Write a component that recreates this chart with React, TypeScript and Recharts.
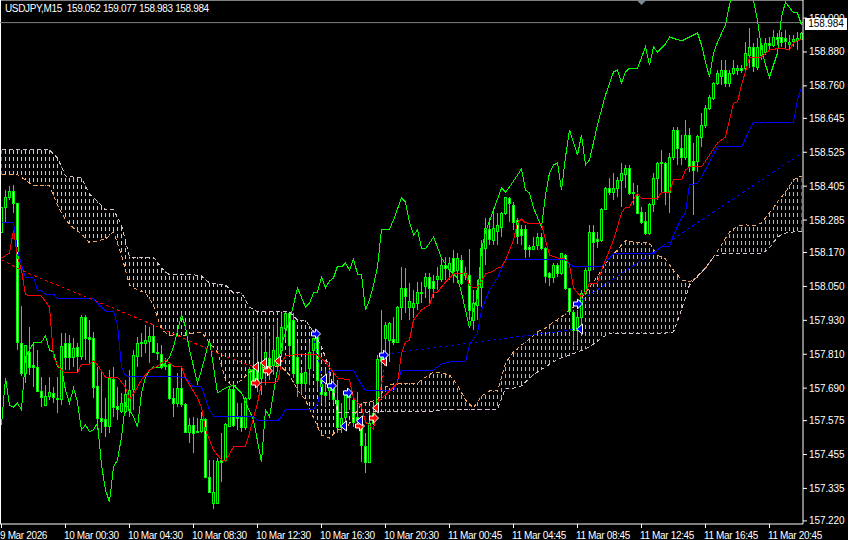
import { ComposedChart, Area, Bar, Line, Scatter, XAxis, YAxis, ReferenceLine } from 'recharts';

const FONT = '"Liberation Sans", sans-serif';
const TRACK = '-0.35px';

const open = [
  158.243,158.331,158.367,158.388,158.345,157.850,157.744,157.818,157.772,157.765,
  157.680,157.630,157.662,157.673,157.655,157.652,157.850,157.850,157.800,157.836,
  157.804,157.942,157.871,157.867,157.698,157.584,157.581,157.556,157.722,157.627,
  157.609,157.609,157.613,157.687,157.804,157.853,157.850,157.857,157.875,157.818,
  157.811,157.768,157.775,157.655,157.637,157.690,157.634,157.535,157.560,157.538,
  157.538,157.581,157.375,157.283,157.283,157.436,157.436,157.556,157.687,157.588,
  157.588,157.552,157.655,157.758,157.772,157.726,157.761,157.797,157.772,157.772,
  157.825,157.903,157.956,157.931,157.800,157.744,157.708,157.761,157.825,157.871,
  157.719,157.676,157.683,157.694,157.648,157.552,157.588,157.676,157.648,157.588,
  157.577,157.485,157.428,157.567,157.637,157.800,157.867,157.860,157.864,157.853,
  157.977,158.045,157.977,157.977,157.991,158.027,158.052,158.083,158.069,158.076,
  158.076,158.126,158.112,158.151,158.108,158.144,158.098,158.091,157.931,157.984,
  158.048,158.186,158.253,158.214,158.246,158.260,158.310,158.363,158.338,158.285,
  158.253,158.253,158.190,158.183,158.197,158.225,158.186,158.098,158.083,158.126,
  158.098,158.161,158.045,157.960,157.896,157.942,158.027,158.108,158.243,158.218,
  158.214,158.324,158.398,158.384,158.398,158.427,158.448,158.469,158.384,158.370,
  158.314,158.282,158.239,158.342,158.434,158.491,158.487,158.384,158.508,158.604,
  158.540,158.508,158.586,158.494,158.494,158.579,158.622,158.682,158.717,158.770,
  158.795,158.816,158.770,158.806,158.816,158.823,158.823,158.869,158.898,158.827,
  158.869,158.880,158.912,158.905,158.933,158.933,158.929,158.908,158.919,158.922,
  158.926,
];
const close = [
  158.331,158.367,158.388,158.345,157.853,157.744,157.843,157.765,157.765,157.680,
  157.659,157.662,157.676,157.659,157.652,157.839,157.800,157.800,157.832,157.804,
  157.942,157.867,157.864,157.694,157.584,157.574,157.556,157.726,157.623,157.616,
  157.637,157.669,157.683,157.807,157.850,157.850,157.860,157.875,157.818,157.814,
  157.768,157.772,157.655,157.637,157.690,157.634,157.535,157.560,157.531,157.535,
  157.581,157.375,157.322,157.322,157.432,157.428,157.563,157.687,157.560,157.584,
  157.552,157.655,157.758,157.708,157.712,157.783,157.818,157.754,157.825,157.871,
  157.906,157.956,157.843,157.744,157.708,157.708,157.747,157.818,157.867,157.719,
  157.669,157.666,157.708,157.652,157.552,157.584,157.666,157.659,157.570,157.577,
  157.489,157.428,157.567,157.602,157.793,157.790,157.914,157.921,157.853,157.977,
  158.045,158.016,157.998,157.991,158.030,158.030,158.083,158.045,158.045,158.087,
  158.126,158.115,158.133,158.105,158.151,158.062,158.091,157.967,157.991,158.037,
  158.186,158.257,158.218,158.257,158.268,158.310,158.367,158.345,158.278,158.229,
  158.232,158.183,158.183,158.193,158.225,158.186,158.087,158.083,158.126,158.098,
  158.168,158.045,157.963,157.896,157.942,158.027,158.108,158.243,158.207,158.211,
  158.324,158.398,158.384,158.398,158.427,158.452,158.469,158.381,158.381,158.310,
  158.278,158.239,158.342,158.434,158.487,158.487,158.384,158.508,158.604,158.540,
  158.508,158.586,158.476,158.462,158.583,158.622,158.682,158.721,158.770,158.806,
  158.816,158.770,158.806,158.823,158.823,158.816,158.876,158.898,158.830,158.898,
  158.905,158.912,158.905,158.933,158.926,158.915,158.919,158.915,158.926,158.929,
  158.947,
];
const high = [
  158.331,158.391,158.406,158.409,158.345,157.981,157.843,157.906,157.853,157.825,
  157.729,157.701,157.729,157.694,157.729,157.885,157.885,157.878,157.867,157.850,
  157.949,157.949,157.931,157.889,157.765,157.754,157.655,157.754,157.765,157.694,
  157.673,157.719,157.754,157.825,157.871,157.885,157.914,157.906,157.914,157.850,
  157.843,157.797,157.779,157.690,157.744,157.765,157.637,157.584,157.588,157.584,
  157.606,157.584,157.436,157.436,157.443,157.531,157.567,157.694,157.694,157.637,
  157.637,157.659,157.765,157.871,157.885,157.860,157.878,157.860,157.914,157.931,
  157.956,157.960,157.960,157.956,157.850,157.754,157.800,157.853,157.896,157.878,
  157.729,157.754,157.783,157.744,157.719,157.637,157.683,157.683,157.659,157.676,
  157.588,157.531,157.613,157.637,157.807,157.967,157.924,157.924,157.942,157.981,
  158.119,158.115,158.062,158.037,158.066,158.066,158.098,158.098,158.091,158.119,
  158.154,158.154,158.154,158.179,158.168,158.161,158.119,158.183,158.037,158.073,
  158.214,158.292,158.292,158.321,158.310,158.314,158.367,158.367,158.349,158.292,
  158.268,158.268,158.197,158.225,158.239,158.239,158.190,158.101,158.133,158.133,
  158.168,158.165,158.045,157.967,157.967,158.037,158.115,158.268,158.268,158.243,
  158.328,158.402,158.434,158.452,158.437,158.487,158.480,158.480,158.416,158.409,
  158.331,158.314,158.345,158.452,158.491,158.533,158.491,158.522,158.614,158.614,
  158.586,158.639,158.611,158.558,158.586,158.664,158.692,158.728,158.774,158.816,
  158.852,158.852,158.816,158.852,158.834,158.834,158.915,158.965,158.912,158.930,
  158.912,158.930,158.933,158.958,158.947,158.951,158.958,158.940,158.940,158.951,
  158.951,
];
const low = [
  158.243,158.278,158.356,158.310,157.825,157.733,157.708,157.737,157.694,157.676,
  157.623,157.630,157.648,157.637,157.602,157.630,157.754,157.754,157.765,157.744,
  157.790,157.790,157.779,157.655,157.542,157.531,157.517,157.531,157.588,157.577,
  157.602,157.602,157.588,157.613,157.765,157.800,157.814,157.779,157.814,157.790,
  157.765,157.754,157.648,157.588,157.623,157.623,157.531,157.496,157.460,157.531,
  157.531,157.372,157.319,157.262,157.283,157.358,157.428,157.552,157.552,157.542,
  157.535,157.542,157.648,157.701,157.676,157.666,157.701,157.719,157.737,157.747,
  157.800,157.860,157.807,157.726,157.659,157.666,157.676,157.701,157.754,157.683,
  157.637,157.623,157.648,157.637,157.531,157.531,157.542,157.613,157.552,157.552,
  157.428,157.390,157.428,157.560,157.613,157.648,157.797,157.783,157.843,157.853,
  157.931,157.956,157.931,157.938,157.967,157.991,158.009,157.984,158.009,158.037,
  158.066,158.073,158.073,158.062,158.062,158.055,158.073,157.931,157.896,157.931,
  157.977,158.126,158.197,158.197,158.197,158.225,158.303,158.278,158.250,158.200,
  158.197,158.151,158.154,158.179,158.179,158.179,158.062,158.052,158.062,158.083,
  158.091,158.037,157.960,157.843,157.843,157.896,158.020,158.066,158.108,158.186,
  158.207,158.321,158.374,158.356,158.367,158.331,158.398,158.374,158.338,158.310,
  158.271,158.232,158.232,158.314,158.356,158.384,158.338,158.310,158.498,158.480,
  158.480,158.498,158.455,158.303,158.455,158.544,158.611,158.675,158.710,158.763,
  158.763,158.756,158.756,158.798,158.798,158.806,158.816,158.823,158.809,158.816,
  158.852,158.869,158.887,158.898,158.905,158.898,158.887,158.887,158.898,158.887,
  158.922,
];

// [bar, price]
const tenkan = [
  [0,158.151],[2,158.168],[3,158.250],[4,158.154],[5,158.108],[6,158.020],[10,158.016],[12,157.977],[13,157.800],[14,157.772],
  [15,157.754],[16,157.744],[19,157.744],[20,157.775],[22,157.775],[23,157.786],[24,157.772],[26,157.729],[29,157.729],[31,157.694],
  [32,157.648],[34,157.694],[35,157.719],[37,157.754],[39,157.768],[41,157.790],[43,157.768],[45,157.768],[46,157.726],[49,157.655],
  [50,157.623],[51,157.542],[53,157.471],[55,157.436],[56,157.432],[58,157.482],[61,157.485],[62,157.531],[64,157.637],[65,157.708],
  [69,157.712],[70,157.779],[71,157.804],[75,157.811],[79,157.807],[81,157.783],[84,157.726],[87,157.719],[88,157.655],[90,157.623],
  [91,157.570],[93,157.545],[94,157.641],[96,157.666],[99,157.708],[100,157.814],[101,157.853],[102,157.860],[103,157.931],[105,157.967],
  [107,157.984],[108,158.027],[109,158.030],[111,158.066],[113,158.094],[116,158.098],[117,158.055],[118,158.045],[119,158.048],[120,158.069],
  [121,158.094],[123,158.105],[124,158.115],[125,158.119],[126,158.144],[128,158.214],[129,158.275],[130,158.289],[131,158.275],[135,158.271],
  [136,158.214],[137,158.161],[139,158.151],[141,158.147],[142,158.126],[143,158.045],[144,158.027],[145,158.013],[146,158.030],[147,158.062],
  [149,158.062],[150,158.108],[152,158.179],[153,158.214],[155,158.310],[156,158.331],[157,158.331],[159,158.381],[160,158.360],[164,158.360],
  [165,158.384],[167,158.384],[168,158.427],[170,158.427],[171,158.462],[172,158.473],[175,158.473],[179,158.558],[181,158.579],[182,158.639],
  [183,158.699],[184,158.703],[185,158.763],[187,158.859],[190,158.862],[192,158.887],[195,158.894],[197,158.887],[198,158.912],[200,158.926],
];
const kijun = [
  [0,158.275],[3,158.275],[4,158.179],[5,158.126],[6,158.083],[8,158.083],[9,158.037],[10,158.034],[11,158.023],[13,158.023],
  [14,158.006],[23,158.006],[26,157.963],[28,157.963],[29,157.914],[30,157.765],[31,157.733],[46,157.729],[48,157.694],[50,157.694],
  [52,157.613],[53,157.591],[63,157.591],[64,157.574],[69,157.574],[70,157.588],[71,157.616],[78,157.616],[79,157.634],[80,157.701],
  [81,157.726],[82,157.754],[88,157.754],[89,157.726],[91,157.680],[98,157.680],[99,157.712],[100,157.754],[108,157.754],[110,157.775],
  [112,157.783],[116,157.783],[117,157.843],[119,157.885],[120,157.967],[122,158.037],[124,158.080],[126,158.144],[141,158.144],[143,158.119],
  [150,158.119],[152,158.151],[153,158.165],[163,158.165],[165,158.190],[167,158.190],[168,158.232],[170,158.292],[171,158.310],[172,158.409],
  [174,158.416],[175,158.437],[179,158.544],[185,158.544],[188,158.632],[198,158.632],[199,158.710],[200,158.756],
];
const chikou = [
  [0,157.560],[1,157.726],[2,157.630],[3,157.623],[4,157.637],[5,157.613],[6,157.800],[7,157.825],[8,157.850],[10,157.853],
  [11,157.875],[12,157.825],[13,157.818],[14,157.765],[15,157.761],[16,157.683],[17,157.637],[18,157.690],[19,157.641],[20,157.542],
  [21,157.560],[22,157.535],[23,157.542],[24,157.567],[25,157.418],[26,157.329],[27,157.287],[28,157.411],[29,157.436],[30,157.517],
  [31,157.637],[32,157.613],[33,157.588],[34,157.552],[35,157.673],[36,157.729],[37,157.754],[38,157.765],[40,157.761],[42,157.800],
  [43,157.836],[45,157.949],[46,157.906],[47,157.825],[49,157.708],[50,157.754],[52,157.860],[54,157.673],[56,157.690],[58,157.701],
  [60,157.673],[63,157.577],[65,157.428],[66,157.613],[67,157.588],[70,157.843],[72,157.931],[73,157.984],[74,158.045],[76,157.977],
  [77,157.991],[78,158.027],[79,158.030],[80,158.083],[81,158.045],[82,158.069],[83,158.080],[84,158.122],[85,158.119],[86,158.133],
  [87,158.108],[88,158.147],[89,158.094],[90,158.091],[91,157.967],[92,158.002],[93,158.055],[94,158.119],[95,158.253],[97,158.253],
  [98,158.285],[100,158.363],[101,158.349],[102,158.278],[103,158.232],[104,158.250],[105,158.186],[106,158.183],[108,158.225],[110,158.151],
  [112,158.108],[114,158.080],[115,158.027],[116,157.967],[117,157.903],[118,157.967],[119,158.013],[120,158.179],[121,158.243],[123,158.321],
  [125,158.398],[126,158.384],[127,158.402],[130,158.466],[131,158.391],[132,158.381],[133,158.328],[135,158.260],[136,158.374],[137,158.452],
  [138,158.480],[139,158.487],[140,158.391],[141,158.508],[142,158.604],[144,158.515],[145,158.586],[146,158.480],[147,158.498],[149,158.622],
  [151,158.728],[153,158.809],[154,158.816],[155,158.770],[156,158.809],[157,158.823],[159,158.823],[161,158.898],[162,158.834],[163,158.898],
  [164,158.880],[166,158.908],[167,158.933],[170,158.919],[173,158.940],[174,158.947],[175,158.905],[176,158.845],[177,158.791],[178,158.876],
  [179,158.915],[181,158.976],[182,159.046],[183,159.092],[186,159.117],[188,159.064],[189,158.993],[190,158.894],[191,158.834],[192,158.791],
  [193,158.834],[194,158.876],[195,159.004],[196,159.057],[198,159.018],[199,159.018],[200,158.976],
];

// one value every second bar, bars 0, 2, 4 ... 200
const spanA = [
  158.445,158.445,158.445,158.427,158.406,158.406,158.406,158.338,158.285,158.257,
  158.236,158.204,158.211,158.218,158.243,158.161,158.055,158.037,158.027,157.984,
  157.896,157.878,157.875,157.878,157.885,157.889,157.850,157.818,157.719,157.694,
  157.719,157.747,157.761,157.765,157.765,157.765,157.737,157.683,157.648,157.584,
  157.524,157.513,157.542,157.542,157.588,157.637,157.641,157.648,157.694,157.705,
  157.708,157.708,157.708,157.729,157.747,157.744,157.737,157.701,157.648,157.620,
  157.662,157.680,157.680,157.779,157.818,157.843,157.864,157.889,157.903,157.924,
  157.942,157.967,157.991,158.027,158.066,158.108,158.151,158.179,158.214,158.207,
  158.204,158.204,158.161,158.147,158.108,158.073,158.066,158.083,158.115,158.154,
  158.197,158.243,158.264,158.268,158.264,158.275,158.310,158.349,158.384,158.427,
  158.441,
];
const spanB = [
  158.533,158.533,158.533,158.533,158.533,158.533,158.533,158.505,158.441,158.437,
  158.434,158.377,158.352,158.321,158.321,158.268,158.154,158.154,158.154,158.154,
  158.115,158.091,158.091,158.091,158.091,158.087,158.062,158.059,158.055,158.027,
  158.027,157.977,157.960,157.960,157.960,157.960,157.960,157.931,157.931,157.889,
  157.836,157.761,157.602,157.602,157.602,157.602,157.606,157.606,157.606,157.606,
  157.606,157.609,157.609,157.609,157.609,157.613,157.613,157.613,157.613,157.613,
  157.613,157.613,157.616,157.690,157.690,157.698,157.726,157.747,157.765,157.783,
  157.797,157.807,157.818,157.829,157.846,157.867,157.885,157.885,157.885,157.885,
  157.885,157.885,157.885,157.885,157.889,157.967,158.055,158.087,158.115,158.154,
  158.165,158.165,158.165,158.165,158.165,158.165,158.186,158.225,158.239,158.243,
  158.243,
];

const trendRedA = [[0,158.144],[6,158.101],[38,157.914],[55,157.807],[64,157.761]];
const trendRedB = [[94,157.620],[96,157.786]];
const trendBlueA = [[78,157.878],[80,157.722]];
const trendBlueB = [[96,157.811],[144,157.899]];
const trendBlueC = [[144,157.991],[200,158.522]];

const arrowsRed = [
  { bar: 63.5, price: 157.708, dir: 'right' },
  { bar: 63.5, price: 157.765, dir: 'left' },
  { bar: 65.5, price: 157.779, dir: 'left' },
  { bar: 66.5, price: 157.751, dir: 'right' },
  { bar: 69, price: 157.786, dir: 'left' },
  { bar: 89.5, price: 157.556, dir: 'right' },
  { bar: 93.5, price: 157.620, dir: 'left' },
  { bar: 93, price: 157.584, dir: 'right' },
  { bar: 95.5, price: 157.786, dir: 'left' },
];
const arrowsBlue = [
  { bar: 78.5, price: 157.882, dir: 'right' },
  { bar: 80.5, price: 157.722, dir: 'left' },
  { bar: 82.5, price: 157.698, dir: 'right' },
  { bar: 86.5, price: 157.673, dir: 'right' },
  { bar: 85.5, price: 157.556, dir: 'left' },
  { bar: 89.5, price: 157.574, dir: 'left' },
  { bar: 95.5, price: 157.807, dir: 'right' },
  { bar: 144, price: 157.988, dir: 'right' },
  { bar: 144.5, price: 157.899, dir: 'left' },
];
const shiftMark = [{ bar: 160, price: 159.064 }];

const priceTicks = [159.0, 158.88, 158.76, 158.645, 158.525, 158.405, 158.285, 158.17, 158.05, 157.93, 157.81, 157.69, 157.575, 157.455, 157.335, 157.22];
const timeTicks = [0, 16, 32, 48, 64, 80, 96, 112, 128, 144, 160, 176, 192];
const timeLabels = ['9 Mar 2026', '10 Mar 00:30', '10 Mar 04:30', '10 Mar 08:30', '10 Mar 12:30', '10 Mar 16:30', '10 Mar 20:30', '11 Mar 00:45', '11 Mar 04:45', '11 Mar 08:45', '11 Mar 12:45', '11 Mar 16:45', '11 Mar 20:45'];

const lastPrice = 158.984;
const BEAR_END = 88; // cloud flips colour here

const rows: any[] = open.map((o, i) => ({
  bar: i, open: o, close: close[i], high: high[i], low: low[i], wick: [low[i], high[i]],
}));
const put = (key: string, pairs: number[][]) => pairs.forEach(([b, v]) => { rows[b][key] = v; });
put('tenkan', tenkan);
put('kijun', kijun);
put('chikou', chikou);
put('trendRedA', trendRedA);
put('trendRedB', trendRedB);
put('trendBlueA', trendBlueA);
put('trendBlueB', trendBlueB);
put('trendBlueC', trendBlueC);
spanA.forEach((a, k) => {
  const b = k * 2;
  const band = [Math.min(a, spanB[k]), Math.max(a, spanB[k])];
  rows[b].spanA = a;
  rows[b].spanB = spanB[k];
  if (b <= BEAR_END) rows[b].bear = band;
  if (b >= BEAR_END) rows[b].bull = band;
});

function Candle(props: any) {
  const { x, y, width, height, payload } = props;
  const k = height / (payload.high - payload.low);
  const cx = Math.floor(x + width / 2) + 0.5;
  const top = Math.round(y + (payload.high - Math.max(payload.open, payload.close)) * k) + 0.5;
  const bot = Math.round(y + (payload.high - Math.min(payload.open, payload.close)) * k) + 0.5;
  const bull = payload.close >= payload.open;
  return (
    <g>
      <line x1={cx} x2={cx} y1={Math.round(y)} y2={Math.round(y + height)} stroke="#00ff00" />
      <rect x={cx - 1} y={top} width={2} height={Math.max(bot - top, 1)} fill={bull ? '#000000' : '#ffffff'} stroke="#00ff00" />
    </g>
  );
}

function Arrow(props: any) {
  const { cx, cy, payload, color } = props;
  // right-hand signals carry a tail, left-hand ones are a plain head
  const shape = payload.dir === 'right'
    ? [[-4, -2], [0, -2], [0, -5], [5, 0], [0, 5], [0, 2], [-4, 2]]
    : [[3, -5], [3, 5], [-3, 0]];
  const pts = shape.map(([a, b]) => `${cx + a},${cy + b}`).join(' ');
  return <polygon points={pts} fill={color} stroke="#ffffff" strokeWidth={1} />;
}

function ShiftMark(props: any) {
  const { cx, cy } = props;
  return <polygon points={`${cx - 5},${cy} ${cx + 5},${cy} ${cx},${cy + 5}`} fill="#808890" />;
}

function TimeTick(props: any) {
  const { x, y, payload, index } = props;
  return (
    <text x={x - 1.5} y={y + 9} fill="#ffffff" fontSize={10} fontFamily={FONT} textAnchor="start" style={{ letterSpacing: TRACK }}>
      {timeLabels[index ?? timeTicks.indexOf(payload.value)]}
    </text>
  );
}

function PriceTick(props: any) {
  const { y, payload } = props;
  return (
    <text x={809} y={y + 3.5} fill="#ffffff" fontSize={10} fontFamily={FONT} textAnchor="start" style={{ letterSpacing: '-0.1px' }}>
      {payload.value.toFixed(3)}
    </text>
  );
}

const lineProps = { dot: false, connectNulls: true, isAnimationActive: false, activeDot: false, strokeWidth: 1, shapeRendering: 'crispEdges' } as any;

export default function App() {
  return (
    <div style={{ position: 'fixed', left: 0, top: 0, width: 848, height: 540, background: '#000', overflow: 'hidden' }}>
      <ComposedChart width={848} height={540} data={rows} margin={{ top: 0, right: 0, bottom: 0, left: 0 }}>
        <defs>
          <pattern id="bearDots" width={4} height={7} patternUnits="userSpaceOnUse">
            <rect x={1} y={3} width={1} height={4} fill="#d8bfd8" />
          </pattern>
          <pattern id="bullDots" width={4} height={7} patternUnits="userSpaceOnUse">
            <rect x={1} y={3} width={1} height={4} fill="#f4a460" />
          </pattern>
        </defs>
        <XAxis
          dataKey="bar"
          type="number"
          domain={[-0.375, 200.375]}
          allowDataOverflow
          ticks={timeTicks}
          interval={0}
          height={16}
          stroke="#ffffff"
          tickSize={4}
          tick={TimeTick}
        />
        <YAxis
          orientation="right"
          width={45}
          domain={[157.209, 159.064]}
          allowDataOverflow
          ticks={priceTicks}
          interval={0}
          stroke="#ffffff"
          tickSize={4}
          tick={PriceTick}
        />
        <ReferenceLine y={159.064} stroke="#ffffff" />
        <ReferenceLine x={-0.25} stroke="#ffffff" />
        <ReferenceLine y={lastPrice} stroke="#808080" />
        <Area dataKey="bear" stroke="none" fill="url(#bearDots)" fillOpacity={1} connectNulls dot={false} activeDot={false} isAnimationActive={false} />
        <Area dataKey="bull" stroke="none" fill="url(#bullDots)" fillOpacity={1} connectNulls dot={false} activeDot={false} isAnimationActive={false} />
        <Line dataKey="spanA" stroke="#f4a460" strokeDasharray="4 3" {...lineProps} />
        <Line dataKey="spanB" stroke="#d8bfd8" strokeDasharray="4 3" {...lineProps} />
        <Bar dataKey="wick" barSize={3} shape={<Candle />} isAnimationActive={false} />
        <Line dataKey="chikou" stroke="#00ff00" {...lineProps} />
        <Line dataKey="kijun" stroke="#0000ff" {...lineProps} />
        <Line dataKey="tenkan" stroke="#ff0000" {...lineProps} />
        <Line dataKey="trendRedA" stroke="#ff0000" strokeDasharray="3 3" {...lineProps} />
        <Line dataKey="trendRedB" stroke="#ff0000" strokeDasharray="3 3" {...lineProps} />
        <Line dataKey="trendBlueA" stroke="#0000ff" strokeDasharray="3 3" {...lineProps} />
        <Line dataKey="trendBlueB" stroke="#0000ff" strokeDasharray="3 3" {...lineProps} />
        <Line dataKey="trendBlueC" stroke="#0000ff" strokeDasharray="3 3" {...lineProps} />
        <Scatter data={arrowsRed} dataKey="price" shape={<Arrow color="#ff0000" />} isAnimationActive={false} />
        <Scatter data={arrowsBlue} dataKey="price" shape={<Arrow color="#0000ff" />} isAnimationActive={false} />
        <Scatter data={shiftMark} dataKey="price" shape={<ShiftMark />} isAnimationActive={false} />
      </ComposedChart>
      <div style={{ position: 'absolute', left: 5, top: 3, color: '#ffffff', fontFamily: FONT, fontSize: 10, whiteSpace: 'pre', lineHeight: '12px', letterSpacing: TRACK }}>
        {'USDJPY,M15  159.052 159.077 158.983 158.984'}
      </div>
      <div style={{ position: 'absolute', left: 805, top: 18, width: 42, height: 12, background: '#ffffff', color: '#000000', fontFamily: FONT, fontSize: 10, lineHeight: '12px', textAlign: 'center', letterSpacing: '-0.1px' }}>
        158.984
      </div>
    </div>
  );
}
